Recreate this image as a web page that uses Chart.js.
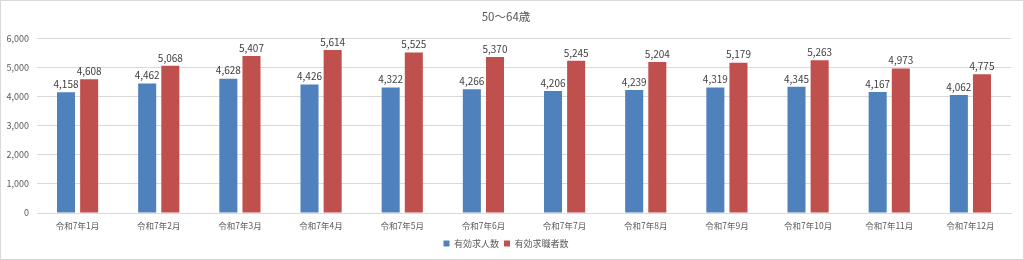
<!DOCTYPE html>
<html><head><meta charset="utf-8">
<script src="https://cdn.jsdelivr.net/npm/chart.js@4"></script>
<style>
html,body{margin:0;padding:0;background:#fff;}
#wrap{position:relative;width:1022px;height:258px;border:1px solid #d9d9d9;}
</style></head><body>
<div id="wrap"><canvas id="c"></canvas></div>
<script>
const title = '50〜64歳';
const categories = ['令和7年1月','令和7年2月','令和7年3月','令和7年4月','令和7年5月','令和7年6月','令和7年7月','令和7年8月','令和7年9月','令和7年10月','令和7年11月','令和7年12月'];
const seriesNames = ['有効求人数','有効求職者数'];
const jobOffers = [4158,4462,4628,4426,4322,4266,4206,4239,4319,4345,4167,4062];
const jobSeekers = [4608,5068,5407,5614,5525,5370,5245,5204,5179,5263,4973,4775];
const yTicks = [0,1000,2000,3000,4000,5000,6000];

const FONT = '"Noto Sans CJK JP", "Noto Sans", sans-serif';
const valueLabels = {
  id:'valueLabels',
  afterDatasetsDraw(chart){
    const ctx = chart.ctx;
    ctx.save();
    ctx.font = '10px ' + FONT;
    ctx.fillStyle = '#404040';
    ctx.textAlign = 'center';
    ctx.textBaseline = 'bottom';
    chart.data.datasets.forEach((ds,i)=>{
      chart.getDatasetMeta(i).data.forEach((bar,j)=>{
        ctx.fillText(ds.data[j].toLocaleString('en-US'), bar.x, bar.y - 3);
      });
    });
    ctx.restore();
  }
};

new Chart(document.getElementById('c'), {
  type:'bar',
  data:{
    labels: categories,
    datasets:[
      {label:seriesNames[0], data:jobOffers, backgroundColor:'#4F81BD', categoryPercentage:0.57, barPercentage:0.78},
      {label:seriesNames[1], data:jobSeekers, backgroundColor:'#C0504D', categoryPercentage:0.57, barPercentage:0.78}
    ]
  },
  options:{
    responsive:true, maintainAspectRatio:false, animation:false,
    layout:{padding:{left:0,right:12,top:0,bottom:1}},
    plugins:{
      title:{display:true, text:title, color:'#595959', font:{family:FONT,size:11.5,weight:'normal'}, padding:{top:9,bottom:15}},
      legend:{position:'bottom', labels:{color:'#595959', font:{family:FONT,size:9}, boxWidth:6, boxHeight:6, padding:5}},
      tooltip:{enabled:false}
    },
    scales:{
      x:{
        afterFit(scale){ scale.height = 21; },
        grid:{display:false, drawTicks:false},
        border:{display:true,color:'#d9d9d9'},
        ticks:{color:'#595959', font:{family:FONT,size:8.5}, maxRotation:0, padding:8}
      },
      y:{
        min:0, max:6000,
        afterBuildTicks(scale){ scale.ticks = yTicks.map(v=>({value:v})); },
        afterFit(scale){ scale.width = 36; },
        grid:{color:'#d9d9d9', drawTicks:false},
        border:{display:false},
        ticks:{color:'#595959', font:{family:FONT,size:9}, padding:8, callback:v=>v.toLocaleString('en-US')}
      }
    }
  },
  plugins:[valueLabels]
});
</script>
</body></html>
